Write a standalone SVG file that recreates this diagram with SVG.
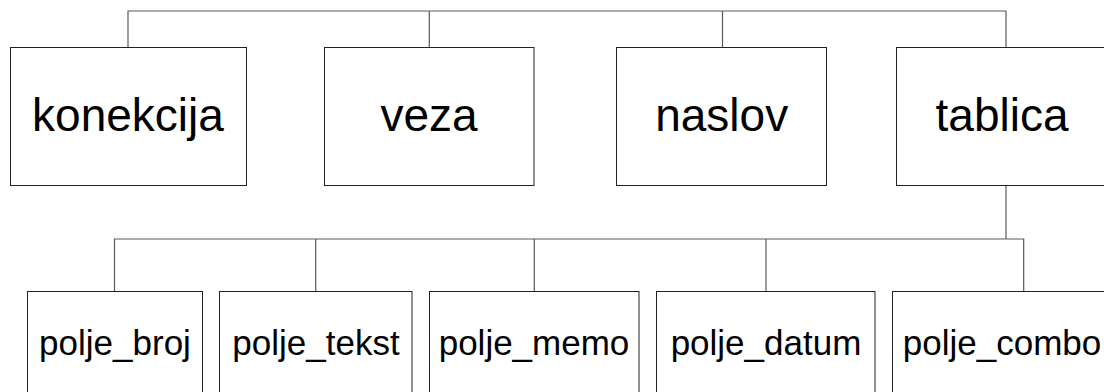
<svg xmlns="http://www.w3.org/2000/svg" width="1104" height="392" viewBox="0 0 1104 392">
<style>
.box{fill:#fff;stroke:#222;stroke-width:1}
.con{fill:none;stroke:#5a5a5a;stroke-width:1.2}
.big{font-family:"Liberation Sans",Arial,sans-serif;font-size:46px;fill:#000;text-anchor:middle}
.small{font-family:"Liberation Sans",Arial,sans-serif;font-size:35px;fill:#000;text-anchor:middle}
</style>
<rect width="1104" height="392" fill="#fff"/>
<g id="connectors">
<path class="con" d="M128 47.5V11H1006V47.5M429.3 11V47.5M722.5 11V47.5"/>
<path class="con" d="M1006 185.5V239M114.5 291.5V239H1023.7V291.5M315.7 239V291.5M534.3 239V291.5M766 239V291.5"/>
</g>
<g id="konekcija"><rect class="box" x="10.5" y="47.5" width="236" height="138"/><text class="big" x="128" y="131">konekcija</text></g>
<g id="veza"><rect class="box" x="324.5" y="47.5" width="209.5" height="138"/><text class="big" x="429" y="131">veza</text></g>
<g id="naslov"><rect class="box" x="616.5" y="47.5" width="210" height="138"/><text class="big" x="721.7" y="131">naslov</text></g>
<g id="tablica"><rect class="box" x="896.5" y="47.5" width="214" height="138"/><text class="big" x="1002" y="131">tablica</text></g>
<g id="polje_broj"><rect class="box" x="27.5" y="291.5" width="175" height="140"/><text class="small" x="115" y="355">polje_broj</text></g>
<g id="polje_tekst"><rect class="box" x="219.5" y="291.5" width="192.5" height="140"/><text class="small" x="316" y="355">polje_tekst</text></g>
<g id="polje_memo"><rect class="box" x="429.5" y="291.5" width="209.5" height="140"/><text class="small" x="534" y="355">polje_memo</text></g>
<g id="polje_datum"><rect class="box" x="656.5" y="291.5" width="218.5" height="140"/><text class="small" x="766" y="355">polje_datum</text></g>
<g id="polje_combo"><rect class="box" x="892.5" y="291.5" width="220" height="140"/><text class="small" x="1002" y="355">polje_combo</text></g>
</svg>
